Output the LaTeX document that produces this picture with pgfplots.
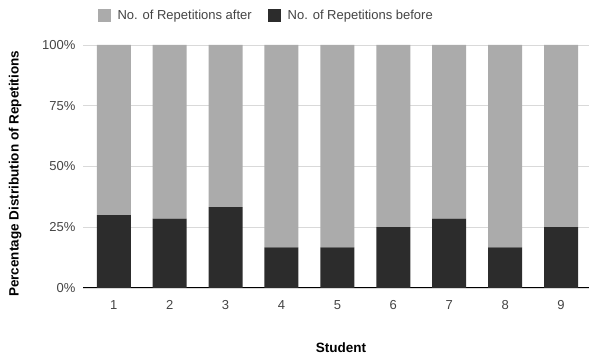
\documentclass[border=0pt]{standalone}
\usepackage{pgfplots}
\pgfplotsset{compat=1.18}
\usepackage{fontspec}
\setmainfont{Liberation Sans}

\definecolor{afterbar}{HTML}{ABABAB}
\definecolor{beforebar}{HTML}{2C2C2C}
\definecolor{gridgray}{HTML}{D9D9D9}
\definecolor{ticktext}{HTML}{444444}
\definecolor{baseline}{HTML}{666666}

\begin{document}
\begin{tikzpicture}[x=1pt,y=1pt]
\useasboundingbox (0,0) rectangle (589,356);
\begin{axis}[
  at={(83pt,68pt)}, anchor=south west,
  scale only axis, width=506pt, height=243pt,
  ybar stacked, bar width=34pt,
  xmin=0.45, xmax=9.5, ymin=0, ymax=100,
  xtick={1,...,9}, ytick={0,25,50,75,100},
  yticklabel={\pgfmathprintnumber{\tick}\%},
  /pgf/number format/assume math mode=true,
  major tick length=0pt,
  axis line style={draw=none},
  ymajorgrids, major grid style={gridgray, line width=0.9pt},
  tick label style={font=\fontsize{13}{15}\selectfont, text=ticktext},
  yticklabel style={xshift=-4pt},
  xticklabel style={yshift=-9pt},
  xlabel={Student},
  ylabel={Percentage Distribution of Repetitions},
  every axis x label/.style={at={(axis description cs:0.51,-0.247)}, anchor=center,
    font=\bfseries\fontsize{13.5}{15}\selectfont, text=black},
  every axis y label/.style={at={(axis description cs:-0.134,0.47)}, anchor=center, rotate=90,
    font=\bfseries\fontsize{13.5}{15}\selectfont, text=black},
  legend columns=2,
  reverse legend,
  legend style={at={(axis description cs:0.362,1.123)}, anchor=center, draw=none,
    font=\fontsize{13}{15}\selectfont, text=ticktext},
]
\addplot[fill=beforebar, draw=none,
  legend image code/.code={\path (-14pt,0pt); \fill[beforebar] (0pt,-6.5pt) rectangle (13pt,6.5pt); \path (18pt,0pt);}]
  coordinates {(1,30) (2,28.57) (3,33.33) (4,16.67) (5,16.67) (6,25) (7,28.57) (8,16.67) (9,25)};
\addplot[fill=afterbar, draw=none,
  legend image code/.code={\fill[afterbar] (0pt,-6.5pt) rectangle (13pt,6.5pt); \path (18pt,0pt);}]
  coordinates {(1,70) (2,71.43) (3,66.67) (4,83.33) (5,83.33) (6,75) (7,71.43) (8,83.33) (9,75)};
\legend{No. of Repetitions before, No. of Repetitions after}
\draw[baseline, line width=1pt] (axis cs:0.45,0) -- (axis cs:9.5,0);
\end{axis}
\end{tikzpicture}
\end{document}
